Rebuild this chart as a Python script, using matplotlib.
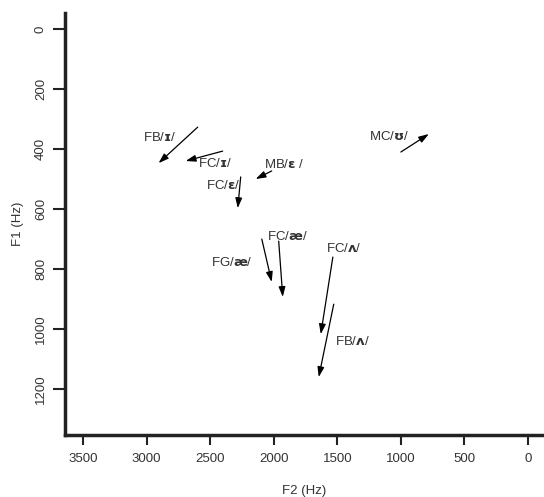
import matplotlib.pyplot as plt

plt.rcParams['font.family'] = ['Liberation Sans', 'DejaVu Sans']

# arrow start / end in (F2, F1) Hz
labels = ["FB/$\\mathbf{ɪ}$/", "FC/$\\mathbf{ɪ}$/", "MB/$\\mathbf{ɛ}$ /", "FC/$\\mathbf{ɛ}$/",
          "FG/$\\mathbf{æ}$/", "FC/$\\mathbf{æ}$/", "FC/$\\mathbf{ʌ}$/", "FB/$\\mathbf{ʌ}$/",
          "MC/$\\mathbf{ʊ}$/"]
f2_start = [2598, 2402, 2016, 2260, 2094, 1961, 1535, 1528, 1000]
f1_start = [327, 407, 473, 493, 700, 707, 760, 917, 410]
f2_end = [2906, 2693, 2142, 2283, 2016, 1929, 1630, 1646, 780]
f1_end = [447, 440, 500, 597, 843, 893, 1017, 1160, 350]
# label positions (F2, F1)
label_f2 = [2900, 2460, 1920, 2400, 2330, 1890, 1450, 1380, 1090]
label_f1 = [363, 447, 453, 523, 777, 690, 730, 1040, 357]

text_col = '#333333'

fig = plt.figure(figsize=(5.44, 4.97), dpi=100)
ax = fig.add_axes([0.1195, 0.1247, 0.8805, 0.849])

for i in range(len(labels)):
    ax.annotate("", xy=(f2_end[i], f1_end[i]), xytext=(f2_start[i], f1_start[i]),
                arrowprops=dict(arrowstyle='-|>,head_length=0.6,head_width=0.2',
                                color='black', lw=0.9,
                                mutation_scale=10, shrinkA=0, shrinkB=0))
    ax.text(label_f2[i], label_f1[i], labels[i], fontsize=9.5, ha='center', va='center',
            color=text_col)

ax.set_xlim(3642, -126)
ax.set_ylim(1353, -53)
ax.set_xticks([3500, 3000, 2500, 2000, 1500, 1000, 500, 0])
ax.set_yticks([0, 200, 400, 600, 800, 1000, 1200])
ax.set_yticklabels(['0', '200', '400', '600', '800', '1000', '1200'], rotation=90, va='center')

for s in ['top', 'right']:
    ax.spines[s].set_visible(False)
for s in ['left', 'bottom']:
    ax.spines[s].set_linewidth(2.5)
    ax.spines[s].set_color('#222222')

ax.tick_params(axis='x', length=7, width=1.5, labelsize=9.5, pad=6, color='#222222',
               labelcolor=text_col)
ax.tick_params(axis='y', length=9, width=1.5, labelsize=9.5, pad=4, color='#222222',
               labelcolor=text_col)
ax.set_xlabel("F2 (Hz)", fontsize=9.5, labelpad=14, color=text_col)
ax.set_ylabel("F1 (Hz)", fontsize=9.5, labelpad=8, color=text_col)

fig.savefig("out.png", dpi=100)
